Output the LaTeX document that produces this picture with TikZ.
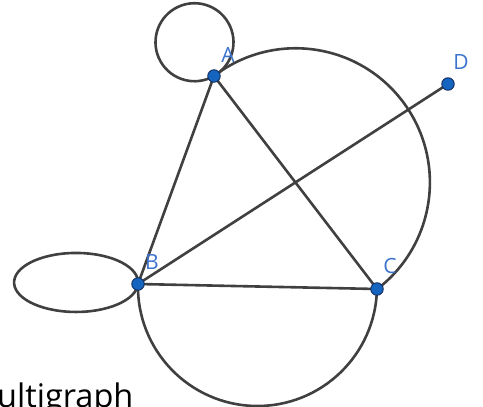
\documentclass[tikz,border=0pt]{standalone}
\usepackage{fontspec}
\setmainfont{Open Sans}
\usetikzlibrary{backgrounds}
\definecolor{ptfill}{RGB}{21,101,192}
\definecolor{ptline}{RGB}{20,45,95}
\definecolor{lbl}{RGB}{60,115,205}
\definecolor{edge}{RGB}{64,64,64}
\tikzset{
  vertex/.style={circle,fill=ptfill,draw=ptline,line width=0.9pt,minimum size=12.5pt,inner sep=0pt},
  vlabel/.style={text=lbl,font=\fontsize{21}{21}\selectfont,inner sep=0pt},
  edgeline/.style={draw=edge,line width=2.6pt},
}
\begin{document}
\begin{tikzpicture}[x=1pt,y=-1pt]
\useasboundingbox (0,0) rectangle (483,407);
\clip (0,0) rectangle (483,407);
\node[vertex] (A) at (214,76) {};
\node[vertex] (B) at (138,284) {};
\node[vertex] (C) at (377,289) {};
\node[vertex] (D) at (448,84) {};
\begin{scope}[on background layer]
  \draw[edgeline] (A.center) -- (B.center);
  \draw[edgeline] (A.center) -- (C.center);
  \draw[edgeline] (B.center) -- (C.center);
  \draw[edgeline] (B.center) -- (D.center);
  % semicircle on AC (right side)
  \draw[edgeline] (A.center) arc[start angle=-127.5, end angle=52.5, radius=134.2];
  % semicircle on BC (below)
  \draw[edgeline] (B.center) arc[start angle=181.2, end angle=1.2, radius=119.5];
  % loop at A
  \draw[edgeline] (A.center) arc[start angle=60, delta angle=360, radius=39];
  % loop at B
  \draw[edgeline] (B.center) arc[start angle=3, delta angle=360, x radius=62, y radius=29.5];
\end{scope}
\node[vlabel] (lA) at (228,55) {A};
\node[vlabel] (lB) at (152,262) {B};
\node[vlabel] (lC) at (390,266) {C};
\node[vlabel] (lD) at (461,62) {D};
\node[anchor=base west,inner sep=0pt,font=\fontsize{32.5}{32.5}\selectfont] (title) at (-3,407) {ultigraph};
\end{tikzpicture}
\end{document}
